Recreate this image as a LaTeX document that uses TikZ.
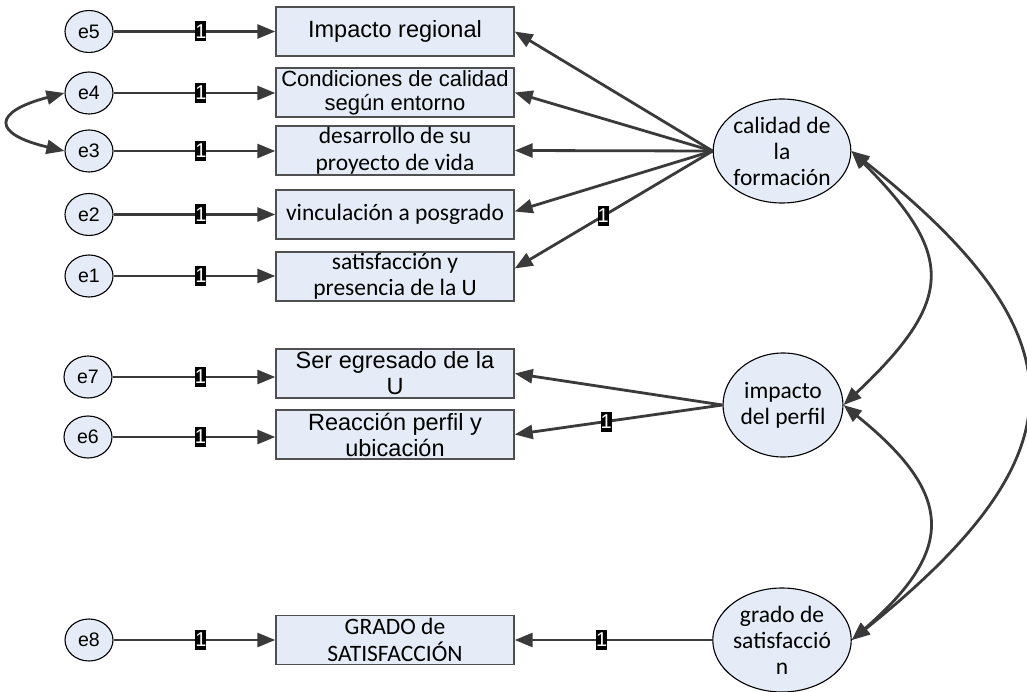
\documentclass[tikz,border=0pt]{standalone}
\usepackage{fontspec}
\setmainfont{Liberation Sans}
\newfontfamily\calfont{Carlito}
\usetikzlibrary{arrows.meta,shapes.geometric,calc}
\definecolor{fillblue}{HTML}{E5ECF7}
\definecolor{linegray}{HTML}{3A3A3A}
\definecolor{boxgray}{HTML}{505050}
\begin{document}
\begin{tikzpicture}[x=1pt,y=-1pt,
  obs/.style={draw=boxgray, line width=1.4pt, fill=fillblue, minimum width=238pt, minimum height=49pt, inner sep=0pt, align=center},
  err/.style={ellipse, draw=black, line width=1.1pt, fill=fillblue, minimum width=48pt, minimum height=42pt, inner sep=0pt, font=\fontsize{19.5}{22}\selectfont},
  lat/.style={ellipse, draw=black, line width=1.1pt, fill=fillblue, minimum width=118pt, minimum height=104pt, inner sep=0pt, align=center, font=\calfont\fontsize{23.5}{26}\selectfont},
  arialtxt/.style={font=\fontsize{23.5}{26}\selectfont},
  arialsm/.style={font=\fontsize{22}{24}\selectfont},
  calitxt/.style={font=\calfont\fontsize{23.5}{26.5}\selectfont},
  conn/.style={draw=linegray, line width=2.8pt, -{Triangle[length=18pt,width=14pt]}},
  cov/.style={draw=linegray, line width=2.8pt, {Triangle[length=18pt,width=14pt]}-{Triangle[length=18pt,width=14pt]}},
  one/.style={fill=black, text=white, inner sep=0pt, minimum width=11pt, minimum height=20pt, font=\fontsize{20}{20}\selectfont},
]
\useasboundingbox (0,0) rectangle (1027,692);

% error terms
\node[err] (e5) at (89,31.5) {e5};
\node[err] (e4) at (89,93) {e4};
\node[err] (e3) at (89,151) {e3};
\node[err] (e2) at (89,214.5) {e2};
\node[err] (e1) at (89,276) {e1};
\node[err] (e7) at (88,377) {e7};
\node[err] (e6) at (88,437) {e6};
\node[err] (e8) at (89,640) {e8};

% observed variables
\node[obs,arialtxt] (b5) at (395,31.5) {Impacto regional};
\node[obs,arialsm] (b4) at (395,92.5) {Condiciones de calidad\\según entorno};
\node[obs,calitxt] (b3) at (395,150.5) {desarrollo de su\\proyecto de vida};
\node[obs,calitxt] (b2) at (395,214.5) {vinculación a posgrado};
\node[obs,calitxt] (b1) at (395,276.5) {satisfacción y\\presencia de la U};
\node[obs,arialtxt] (b7) at (395,373.5) {Ser egresado de la\\U};
\node[obs,arialtxt] (b6) at (395,434.5) {Reacción perfil y\\ubicación};
\node[obs,calitxt] (b8) at (395,640) {GRADO de\\SATISFACCIÓN};

% latent variables
\node[lat] (cal) at (782,151) {calidad de\\la\\formación};
\node[lat] (imp) at (783,405) {impacto\\del perfil};
\node[lat] (gra) at (782,640) {grado de\\satisfacció\\n};

% error paths
\draw[conn] (e5.east) -- (e5.east -| b5.west) node[one,pos=0.54]{1};
\draw[conn] (e4.east) -- (e4.east -| b4.west) node[one,pos=0.54]{1};
\draw[conn] (e3.east) -- (e3.east -| b3.west) node[one,pos=0.54]{1};
\draw[conn] (e2.east) -- (e2.east -| b2.west) node[one,pos=0.54]{1};
\draw[conn] (e1.east) -- (e1.east -| b1.west) node[one,pos=0.54]{1};
\draw[conn] (e7.east) -- (e7.east -| b7.west) node[one,pos=0.54]{1};
\draw[conn] (e6.east) -- (e6.east -| b6.west) node[one,pos=0.54]{1};
\draw[conn] (e8.east) -- (e8.east -| b8.west) node[one,pos=0.54]{1};

% loadings
\draw[conn] (cal.west) -- (b5.east);
\draw[conn] (cal.west) -- (b4.east);
\draw[conn] (cal.west) -- (b3.east);
\draw[conn] (cal.west) -- ($(b2.east)+(0,-3)$);
\draw[conn] (cal.west) -- ($(b1.east)+(0,-8)$) node[one,pos=0.553]{1};
\draw[conn] (imp.west) -- (b7.east);
\draw[conn] (imp.west) -- (b6.east) node[one,pos=0.56]{1};
\draw[conn] (gra.west) -- (b8.east) node[one,pos=0.56]{1};

% covariances
\draw[cov] (e4.west) .. controls (-8,112) and (-8,134) .. (e3.west);
\draw[cov] (cal.east) .. controls (955,255) and (955,300) .. (imp.east);
\draw[cov] (imp.east) .. controls (955,495) and (955,550) .. (gra.east);
\draw[cov] (cal.east) .. controls (1085,336) and (1085,453) .. (gra.east);
\end{tikzpicture}
\end{document}
